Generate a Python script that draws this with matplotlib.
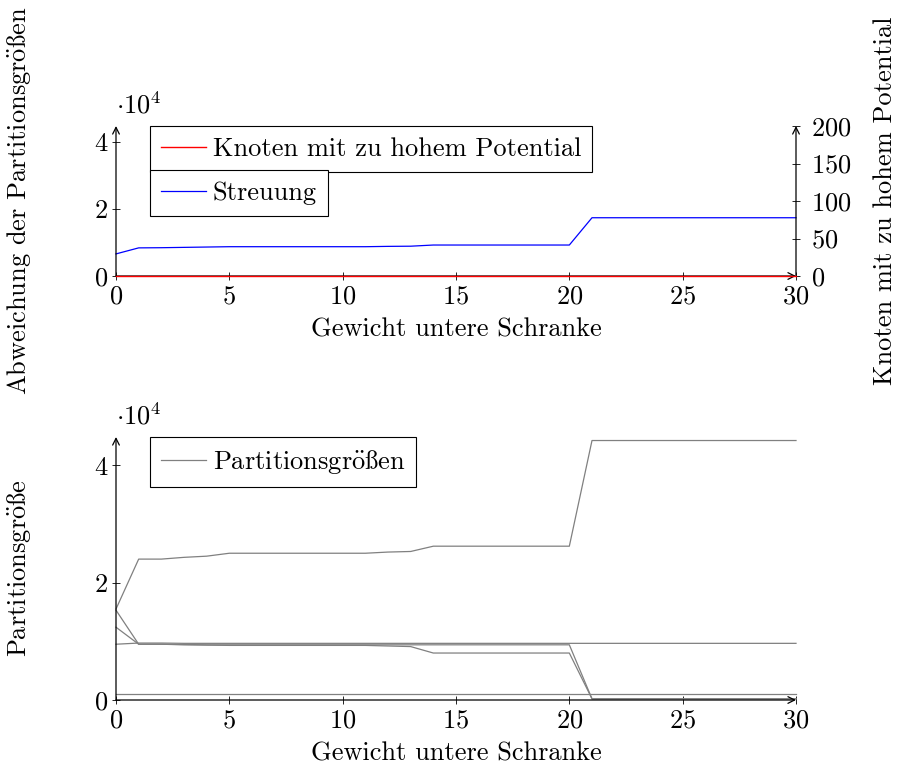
import numpy as np
import matplotlib
matplotlib.use("Agg")
import matplotlib.pyplot as plt
from matplotlib.ticker import FuncFormatter

plt.rcParams['font.family'] = ['cmr10', 'DejaVu Serif']
plt.rcParams['mathtext.fontset'] = 'cm'
plt.rcParams['axes.formatter.use_mathtext'] = True
plt.rcParams['font.size'] = 19

# data
gewicht = np.arange(0, 31)
streuung = [6600, 8400, 8450, 8550, 8650, 8750, 8750, 8750, 8750, 8750, 8750,
            8750, 8850, 8900, 9250, 9250, 9250, 9250, 9250, 9250, 9250,
            17400, 17400, 17400, 17400, 17400, 17400, 17400, 17400, 17400, 17400]
knoten = [0] * 31

part_a = [15500, 24000, 24000, 24300, 24500, 25000, 25000, 25000, 25000, 25000, 25000,
          25000, 25200, 25300, 26200, 26200, 26200, 26200, 26200, 26200, 26200,
          44200, 44200, 44200, 44200, 44200, 44200, 44200, 44200, 44200, 44200]
part_b = [15300, 9500, 9500, 9450, 9400, 9400, 9400, 9400, 9400, 9400, 9400,
          9400, 9400, 9400, 9400, 9400, 9400, 9400, 9400, 9400, 9400,
          200, 200, 200, 200, 200, 200, 200, 200, 200, 200]
part_c = [12400, 9500, 9500, 9400, 9350, 9300, 9300, 9300, 9300, 9300, 9300,
          9300, 9200, 9100, 8000, 8000, 8000, 8000, 8000, 8000, 8000,
          200, 200, 200, 200, 200, 200, 200, 200, 200, 200]
part_d = [9500, 9700, 9700, 9650, 9650, 9650, 9650, 9650, 9650, 9650, 9650,
          9650, 9650, 9650, 9650, 9650, 9650, 9650, 9650, 9650, 9650,
          9650, 9650, 9650, 9650, 9650, 9650, 9650, 9650, 9650, 9650]
part_e = [1000] * 31
partitionen = [part_a, part_b, part_c, part_d, part_e]

# umlaut via mathtext accent, sharp s from the BaKoMa cmr10 slot
oe = r'$\ddot{\mathrm{o}}$'
ss = '\u00bc'
lbl_abw = 'Abweichung der Partitionsgr' + oe + ss + 'en'
lbl_part = 'Partitionsgr' + oe + ss + 'e'
lbl_parts = 'Partitionsgr' + oe + ss + 'en'

W, H = 898, 776
fig = plt.figure(figsize=(W / 100, H / 100), dpi=100)


def px_axes(left, right, top, bottom):
    return fig.add_axes([left / W, 1 - bottom / H, (right - left) / W, (bottom - top) / H])


arrow = dict(arrowstyle='->', lw=0.9, color='black', shrinkA=0, shrinkB=0,
             mutation_scale=12)


def pgf_style(ax):
    for s in ['top', 'right', 'left', 'bottom']:
        ax.spines[s].set_visible(False)
    ax.set_xlim(0, 30)
    ax.set_xticks(range(0, 31, 5))
    ax.tick_params(direction='inout', length=6, width=0.6, pad=3)
    ax.patch.set_alpha(0)
    ax.annotate('', xy=(0, 1), xytext=(0, 0), xycoords='axes fraction', arrowprops=arrow)
    ax.annotate('', xy=(1, 0), xytext=(0, 0), xycoords='axes fraction', arrowprops=arrow)
    ax.annotate(r'$\cdot 10^4$', xy=(0, 1), xycoords='axes fraction',
                xytext=(0, 9), textcoords='offset points', ha='left', va='baseline')


fmt = FuncFormatter(lambda v, p: format(int(round(v / 1e4))))

leg_kw = dict(frameon=True, fancybox=False, edgecolor='black', framealpha=1,
              borderpad=0.42, handlelength=1.7, handletextpad=0.25, borderaxespad=0)

# top chart
ax1 = px_axes(116, 796, 126, 276)
ax1.plot(gewicht, streuung, color='#0000ff', lw=0.9, label='Streuung', clip_on=False)
ax1.set_ylim(0, 44800)
ax1.set_yticks([0, 20000, 40000])
ax1.yaxis.set_major_formatter(fmt)
pgf_style(ax1)
ax1.set_xlabel('Gewicht untere Schranke')
ax1.xaxis.set_label_coords(0.5, -(318 - 276) / 150)
ax1.set_ylabel(lbl_abw)
ax1.yaxis.set_label_coords((33 - 116) / 680, 0.5)

ax1r = ax1.twinx()
ax1r.plot(gewicht, knoten, color='#ff0000', lw=1.0, label='Knoten mit zu hohem Potential',
          clip_on=False, zorder=5)
ax1r.set_ylim(0, 200)
ax1r.set_yticks([0, 50, 100, 150, 200])
for s in ['top', 'right', 'left', 'bottom']:
    ax1r.spines[s].set_visible(False)
ax1r.tick_params(direction='inout', length=6, width=0.6, pad=8)
ax1r.annotate('', xy=(1, 1), xytext=(1, 0), xycoords='axes fraction', arrowprops=arrow)
ax1r.set_ylabel('Knoten mit zu hohem Potential')
ax1r.yaxis.set_label_coords((873 - 116) / 680, 0.5)

l1 = ax1r.legend(loc='upper left', bbox_to_anchor=(150 / W, 1 - 126 / H),
                 bbox_transform=fig.transFigure, **leg_kw)
l1.get_frame().set_linewidth(0.8)
l2 = ax1r.legend(handles=ax1.get_lines(), loc='upper left',
                 bbox_to_anchor=(150 / W, 1 - 170 / H),
                 bbox_transform=fig.transFigure, **leg_kw)
l2.get_frame().set_linewidth(0.8)
ax1r.add_artist(l1)

# bottom chart
ax2 = px_axes(116, 796, 437, 700)
for i, p in enumerate(partitionen):
    ax2.plot(gewicht, p, color='#808080', lw=0.9, clip_on=False,
             label=lbl_parts if i == 0 else None)
ax2.set_ylim(0, 44800)
ax2.set_yticks([0, 20000, 40000])
ax2.yaxis.set_major_formatter(fmt)
pgf_style(ax2)
ax2.set_xlabel('Gewicht untere Schranke')
ax2.xaxis.set_label_coords(0.5, -(742 - 700) / 263)
ax2.set_ylabel(lbl_part)
ax2.yaxis.set_label_coords((33 - 116) / 680, 0.5)
l3 = ax2.legend(loc='upper left', bbox_to_anchor=(150 / W, 1 - 437 / H),
                bbox_transform=fig.transFigure, **leg_kw)
l3.get_frame().set_linewidth(0.8)

fig.savefig('out.png', dpi=100)
